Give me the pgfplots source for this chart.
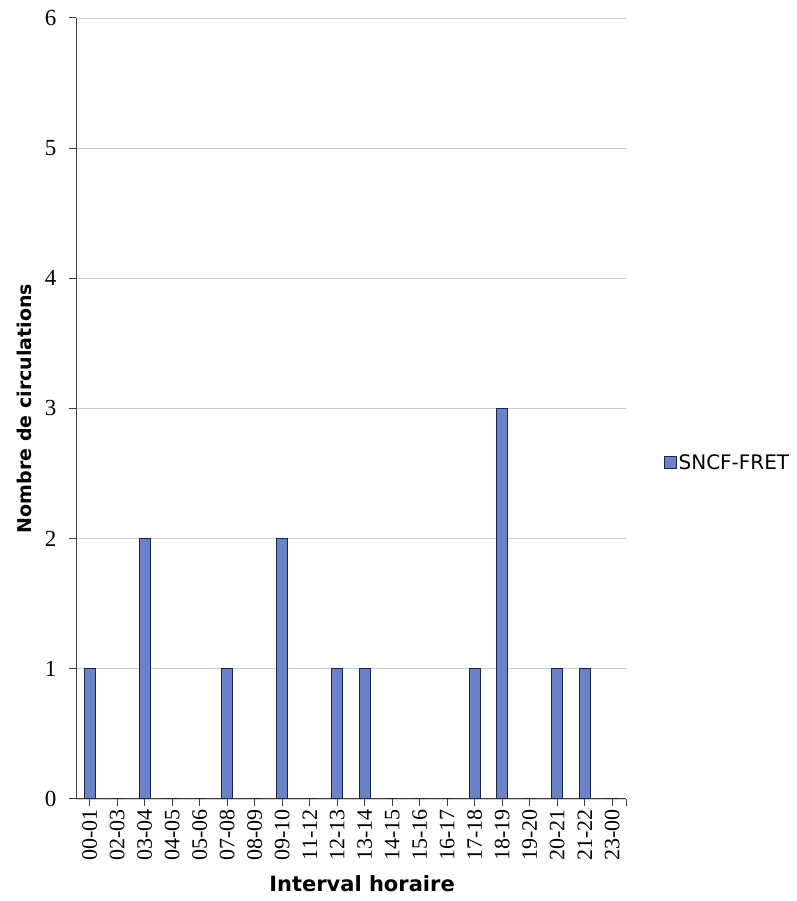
\documentclass[border=0pt]{standalone}
\usepackage{fontspec}
\setmainfont{Liberation Serif}
\newfontfamily\vfont{DejaVu Sans}
\usepackage{pgfplots}
\pgfplotsset{compat=1.18}
\definecolor{barfill}{RGB}{106,130,200}
\definecolor{baredge}{RGB}{28,36,78}
\begin{document}
\begin{tikzpicture}
\path[use as bounding box] (0,0) rectangle (796pt,901pt);
\begin{axis}[
  at={(76pt,102pt)}, anchor=south west,
  scale only axis, width=550pt, height=781pt,
  xmin=-0.5, xmax=19.5, ymin=0, ymax=6,
  axis x line*=bottom, axis y line*=left,
  axis line style={black!75, line width=1pt},
  tick style={black!75, line width=1pt},
  tick align=outside, major tick length=7pt,
  xtick={0,...,19},
  xticklabels={00-01,02-03,03-04,04-05,05-06,07-08,08-09,09-10,11-12,12-13,13-14,14-15,15-16,16-17,17-18,18-19,19-20,20-21,21-22,23-00},
  extra x ticks={19.5}, extra x tick labels={},
  xticklabel style={rotate=90, anchor=east, font=\fontsize{22}{24}\selectfont},
  ytick={0,...,6},
  yticklabel style={font=\fontsize{23}{25}\selectfont, xshift=-9pt},
  /pgf/number format/assume math mode=true,
  ymajorgrids, major grid style={black!20, line width=0.8pt},
  xlabel={Interval horaire},
  ylabel={Nombre de circulations},
  xlabel style={at={(axis description cs:0.52,-0.109)}, anchor=center, font=\vfont\bfseries\fontsize{21}{24}\selectfont},
  ylabel style={at={(axis description cs:-0.093,0.5)}, anchor=center, font=\vfont\bfseries\fontsize{19}{22}\selectfont},
  legend style={at={(axis description cs:1.068,0.431)}, anchor=west, draw=none, fill=none, inner sep=0pt, font=\vfont\fontsize{20}{22}\selectfont},
]
\addplot[ybar, bar width=11pt, bar shift=0pt, fill=barfill, draw=baredge, line width=1.2pt,
  legend image code/.code={\draw[fill=barfill,draw=baredge,line width=1pt] (0pt,-6pt) rectangle (12pt,6pt);}]
  coordinates {(0,1) (1,0) (2,2) (3,0) (4,0) (5,1) (6,0) (7,2) (8,0) (9,1) (10,1) (11,0) (12,0) (13,0) (14,1) (15,3) (16,0) (17,1) (18,1) (19,0)};
\addlegendentry{SNCF-FRET}
\end{axis}
\end{tikzpicture}
\end{document}
